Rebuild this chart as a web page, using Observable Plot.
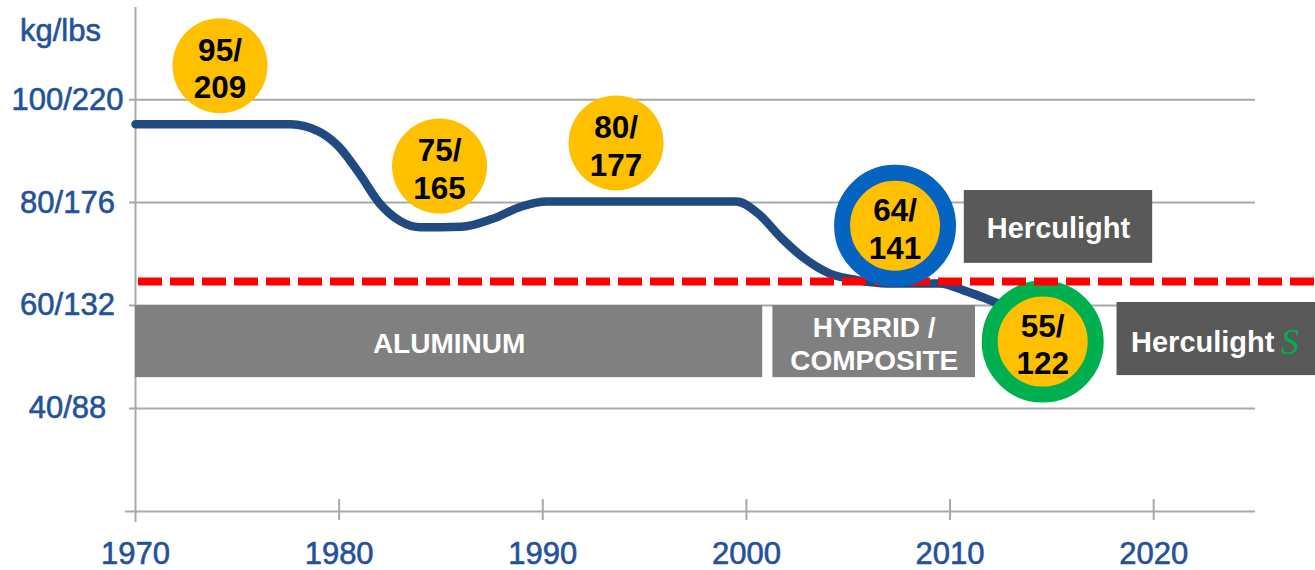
<!DOCTYPE html>
<html><head><meta charset="utf-8">
<script src="https://cdn.jsdelivr.net/npm/d3@7"></script>
<script src="https://cdn.jsdelivr.net/npm/@observablehq/plot@0.6"></script>
<style>
html,body{margin:0;padding:0;background:#fff;}
#chart svg{display:block;}
</style></head><body><div id="chart"></div>
<script>
// ---- data ----
const lineYears = [1970, 1977.6, 1979.0, 1980.0, 1981.0, 1982.0, 1983.0, 1984.0, 1986.0, 1987.5, 1989.0, 1990.2, 1999.5, 2000.6, 2001.7, 2002.8, 2004.1, 2005.5, 2006.9, 2009.5, 2010.7, 2012.0, 2013.5];
const lineKg    = [95.2, 95.2, 93.8, 90.8, 85.6, 79.8, 76.4, 75.2, 75.3, 76.8, 79.3, 80.2, 80.2, 77.8, 73.2, 69.3, 66.2, 64.9, 64.3, 64.3, 62.9, 61.0, 58.5];

const yTicks = [40, 60, 80, 100];
const yTickLabels = ["40/88", "60/132", "80/176", "100/220"];
const xTicks = [1970, 1980, 1990, 2000, 2010, 2020];
const yUnit = "kg/lbs";

const bubbleLabels = ["95/\n209", "75/\n165", "80/\n177", "64/\n141", "55/\n122"];
const bubbleYear = [1974.15, 1984.93, 1993.6, 2007.3, 2014.55];
const bubbleKg = [106.6, 87.1, 91.6, 75.5, 53.0];
const bubbleProduct = ["", "", "", "Herculight", "Herculight S"];

const eraLabels = ["ALUMINUM", "HYBRID /\nCOMPOSITE"];
const eraStart = [1970, 2001.3];
const eraEnd = [2000.8, 2011.25];
const eraTop = [60, 60];
const eraBottom = [46, 46];

const productLabels = ["Herculight", "Herculight"];
const productStart = [2010.7, 2018.2];
const productEnd = [2019.95, 2028.0];
const productTop = [82.35, 60.6];
const productBottom = [68.2, 46.4];

const targetKg = 64.7;

// ---- styles ----
const blue = "#23529b";
const lineBlue = "#214a80";
const gold = "#FFC000";
const ringColor = {"Herculight": "#0563C1", "Herculight S": "#00B050"};
const font = "Liberation Sans, Arial, Helvetica, sans-serif";
const gridGray = "#a9a9a9";

const eraIdx = d3.range(eraLabels.length);
const prodIdx = d3.range(productLabels.length);
const bubIdx = d3.range(bubbleLabels.length);
const plain = bubIdx.filter(i => !bubbleProduct[i]);
const greenRing = bubIdx.filter(i => bubbleProduct[i] === "Herculight S");
const blueRing = bubIdx.filter(i => bubbleProduct[i] === "Herculight");
const lineData = lineYears.map((x, i) => ({x, y: lineKg[i]}));

const axisText = {fontSize: 31, fill: blue, stroke: blue, strokeWidth: 0.6};

const chart = Plot.plot({
  width: 1315,
  height: 570,
  marginLeft: 135,
  marginRight: 60,
  marginTop: 7,
  marginBottom: 59,
  x: {domain: [1970, 2025], axis: null},
  y: {domain: [20, 117.9], axis: null},
  style: {fontFamily: font, background: "#fff", overflow: "visible"},
  marks: [
    // grid lines
    Plot.ruleY(yTicks, {stroke: gridGray, strokeWidth: 2, insetLeft: -6}),
    // x axis line
    Plot.ruleY([20], {stroke: gridGray, strokeWidth: 2, insetLeft: -10}),
    // y axis line
    Plot.ruleX([1970], {stroke: gridGray, strokeWidth: 2, insetBottom: -11}),
    // x ticks
    Plot.ruleX(xTicks.slice(1), {y1: 20, y2: 20, stroke: gridGray, strokeWidth: 2, insetTop: -12, insetBottom: -9}),
    // era boxes
    Plot.rect(eraIdx, {x1: i => eraStart[i], x2: i => eraEnd[i], y1: i => eraBottom[i], y2: i => eraTop[i], fill: "#808080"}),
    // product boxes
    Plot.rect(prodIdx, {x1: i => productStart[i], x2: i => productEnd[i], y1: i => productBottom[i], y2: i => productTop[i], fill: "#595959"}),
    // weight line
    Plot.line(lineData, {x: "x", y: "y", curve: "monotone-x", stroke: lineBlue, strokeWidth: 8.5}),
    // green ring bubble
    Plot.dot(greenRing, {x: i => bubbleYear[i], y: i => bubbleKg[i], r: 53, fill: gold, stroke: i => ringColor[bubbleProduct[i]], strokeWidth: 16}),
    // target dashed line
    Plot.ruleY([targetKg], {x1: 1970, x2: 2028, stroke: "#ff0000", strokeWidth: 8, strokeDasharray: "24,8", insetLeft: 3}),
    // blue ring bubble
    Plot.dot(blueRing, {x: i => bubbleYear[i], y: i => bubbleKg[i], r: 53, fill: gold, stroke: i => ringColor[bubbleProduct[i]], strokeWidth: 16}),
    // plain bubbles
    Plot.dot(plain, {x: i => bubbleYear[i], y: i => bubbleKg[i], r: 47.5, fill: gold}),
    // bubble labels
    Plot.text(bubIdx, {x: i => bubbleYear[i], y: i => bubbleKg[i], text: i => bubbleLabels[i], fontSize: 31.5, fontWeight: "bold", fill: "#000", lineHeight: 1.19, dy: 2}),
    // era labels
    Plot.text(eraIdx, {x: i => (eraStart[i] + eraEnd[i]) / 2, y: i => (eraTop[i] + eraBottom[i]) / 2, text: i => eraLabels[i], fontSize: 28, fontWeight: "bold", fill: "#fff", lineHeight: 1.21, dy: 1}),
    // product labels
    Plot.text([0], {x: i => (productStart[i] + productEnd[i]) / 2, y: i => (productTop[i] + productBottom[i]) / 2, text: i => productLabels[i], fontSize: 29, fontWeight: "bold", fill: "#fff", dy: 2}),
    Plot.text([1], {x: i => productStart[i], y: i => (productTop[i] + productBottom[i]) / 2, text: i => productLabels[i], textAnchor: "start", dx: 14, fontSize: 29, fontWeight: "bold", fill: "#fff", dy: 4}),
    Plot.text([1], {x: i => productStart[i], y: i => (productTop[i] + productBottom[i]) / 2, text: () => "S", textAnchor: "start", dx: 164, dy: 3, fontSize: 36, fontStyle: "italic", fontFamily: "Liberation Serif, DejaVu Serif, serif", fill: "#00B050"}),
    // y tick labels
    Plot.text(yTicks, {y: d => d, text: (d, i) => yTickLabels[i], frameAnchor: "left", lineAnchor: "middle", dx: -68, textAnchor: "middle", ...axisText}),
    // unit label
    Plot.text([yUnit], {frameAnchor: "top-left", lineAnchor: "middle", dx: -75, dy: 24, textAnchor: "middle", ...axisText}),
    // x tick labels
    Plot.text(xTicks, {x: d => d, text: d => String(d), frameAnchor: "bottom", lineAnchor: "middle", dy: 43, ...axisText})
  ]
});
document.getElementById("chart").appendChild(chart);
</script>
</body></html>
